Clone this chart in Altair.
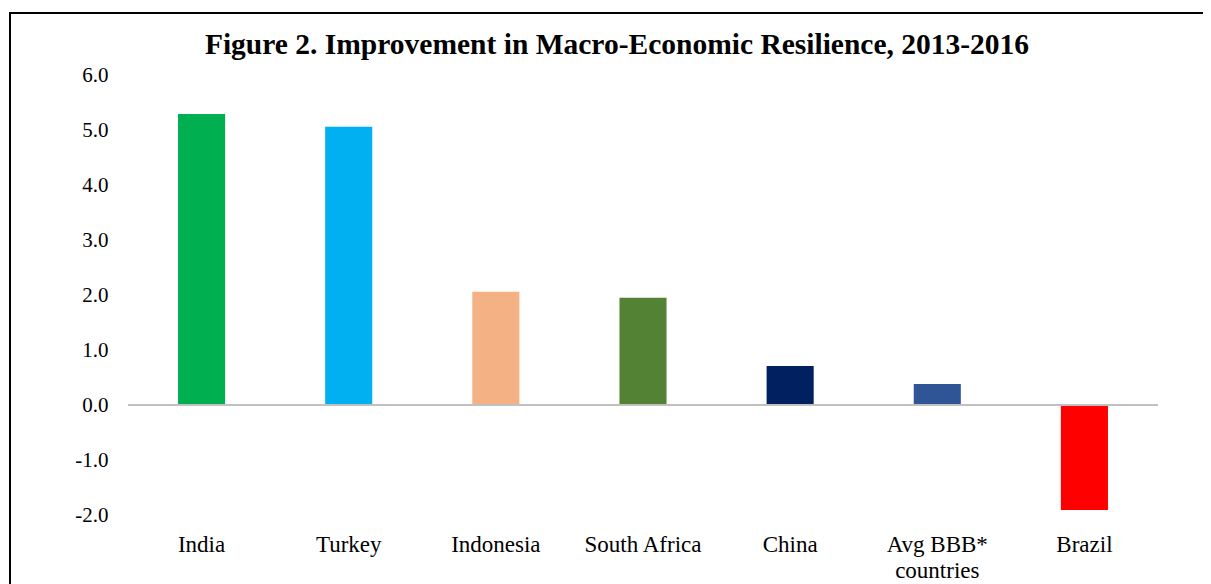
import altair as alt
import pandas as pd

categories = ["India", "Turkey", "Indonesia", "South Africa", "China", "Avg BBB* countries", "Brazil"]
values = [5.29, 5.06, 2.06, 1.95, 0.71, 0.38, -1.91]
colors = ["#00B050", "#00B0F0", "#F4B183", "#548235", "#002060", "#2F5597", "#FF0000"]
y_ticks = [-2, -1, 0, 1, 2, 3, 4, 5, 6]

df = pd.DataFrame({"country": categories, "value": values})

FONT = "'Liberation Serif', 'Times New Roman', Times, serif"

x_enc = alt.X(
    "country:N",
    sort=categories,
    scale=alt.Scale(paddingInner=0.68, paddingOuter=0.34),
    axis=alt.Axis(
        title=None, domain=False, ticks=False, labelAngle=0,
        labelFont=FONT, labelFontSize=23, labelColor="#000000",
        labelPadding=18, labelLineHeight=26.5, labelBaseline="top",
        orient="bottom",
        labelExpr="datum.label == 'Avg BBB* countries' ? ['Avg BBB*', 'countries'] : datum.label",
    ),
)
y_enc = alt.Y(
    "value:Q",
    scale=alt.Scale(domain=[-2, 6], nice=False, zero=False),
    axis=alt.Axis(
        title=None, domain=False, ticks=False, grid=False, values=y_ticks,
        labelFont=FONT, labelFontSize=21, labelColor="#000000", labelPadding=20,
        labelExpr="replace(format(datum.value, '.1f'), '\u2212', '-')",
    ),
)

bars = alt.Chart(df).mark_bar().encode(
    x=x_enc,
    y=y_enc,
    y2=alt.datum(0),
    color=alt.Color("country:N", scale=alt.Scale(domain=categories, range=colors), legend=None),
)

zero = alt.Chart(pd.DataFrame({"z": [0]})).mark_rule(color="#C0C0C0", strokeWidth=2).encode(
    y="z:Q"
)

frame = alt.Chart(pd.DataFrame({"z": [0]})).mark_rect(
    fill=None, stroke="#000000", strokeWidth=2, clip=False
).encode(
    x=alt.value(-118), x2=alt.value(1110), y=alt.value(-62), y2=alt.value(540)
)

chart = alt.layer(bars, zero, frame).properties(
    width=1030,
    height=440,
    title=alt.TitleParams(
        "Figure 2. Improvement in Macro-Economic Resilience, 2013-2016",
        font=FONT, fontSize=29.5, fontWeight="bold", color="#000000",
        anchor="middle", dx=-26, offset=16, dy=64,
    ),
    autosize=alt.AutoSizeParams(type="none"),
    padding={"left": 120, "top": 67, "right": 45, "bottom": 80},
).configure(background="#FFFFFF").configure_view(stroke=None)

chart.save("out.html", embed_options={"renderer": "svg", "actions": False})
